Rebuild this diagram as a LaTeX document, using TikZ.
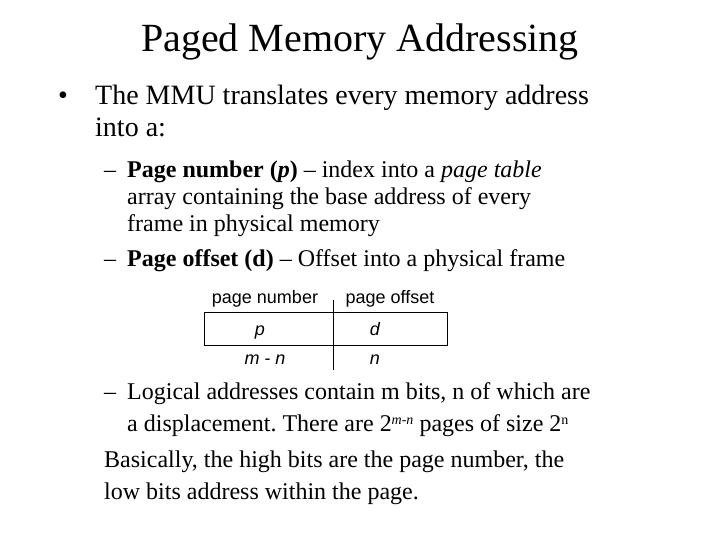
\documentclass[tikz,border=0pt]{standalone}
\usepackage{fontspec}
\setmainfont{Liberation Serif}
\newfontfamily\arial{Liberation Sans}
\frenchspacing
\begin{document}
\begin{tikzpicture}[x=1pt,y=-1pt,
  ln/.style={anchor=base west,inner sep=0pt},
  big/.style={ln,font=\fontsize{28}{32}\selectfont},
  mid/.style={ln,font=\fontsize{24}{28}\selectfont},
  tab/.style={anchor=base,inner sep=0pt,font=\arial\fontsize{18}{21}\selectfont}]
\useasboundingbox (0,0) rectangle (720,540);
\node[anchor=base,inner sep=0pt,font=\fontsize{40}{44}\selectfont] (title) at (360,52) {Paged Memory Addressing};
\node[big] (b0) at (58,105) {\textbullet};
\node[big] (b1) at (95,105) {The MMU translates every memory address};
\node[big] (b2) at (95,137) {into a:};
\node[mid] (d1) at (104,178) {--};
\node[mid] (s1) at (127,178) {\textbf{Page number (\textit{p})} -- index into a \textit{page table}};
\node[mid] (s2) at (127,205) {array containing the base address of every};
\node[mid] (s3) at (127,232) {frame in physical memory};
\node[mid] (d2) at (104,266) {--};
\node[mid] (s4) at (127,266) {\textbf{Page offset (d)} -- Offset into a physical frame};
\node[tab] (pn) at (265,303) {page number};
\node[tab] (po) at (390,303) {page offset};
\draw[line width=1pt] (204,312) rectangle (447,345);
\coordinate (dt) at (333,300);
\coordinate (db) at (333,370);
\draw[line width=0.8pt] (dt) -- (db);
\node[tab] (p) at (260,335) {\textit{p}};
\node[tab] (d) at (375,335) {\textit{d}};
\node[tab] (mn) at (265,364) {\textit{m - n}};
\node[tab] (n) at (375,364) {\textit{n}};
\node[mid] (d3) at (104,399) {--};
\node[mid] (s5) at (127,399) {Logical addresses contain m bits, n of which are};
\node[mid] (s6) at (127,431) {a displacement. There are 2\raisebox{0.6ex}{\fontsize{14}{16}\selectfont\textit{m-n}} pages of size 2\raisebox{0.6ex}{\fontsize{14}{16}\selectfont n}};
\node[mid] (s7) at (104,467) {Basically, the high bits are the page number, the};
\node[mid] (s8) at (104,499) {low bits address within the page.};
\end{tikzpicture}
\end{document}
